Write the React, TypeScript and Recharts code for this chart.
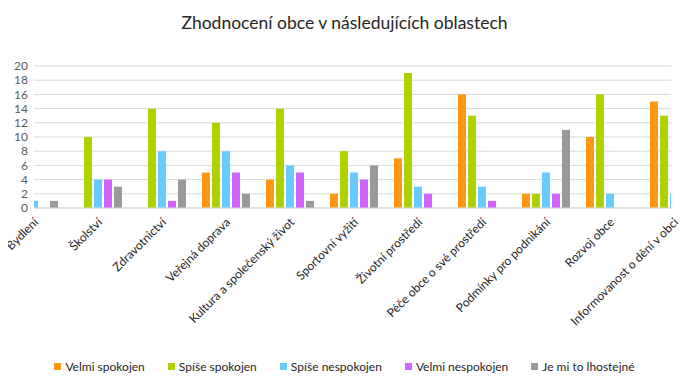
import React from 'react'
import { BarChart, Bar, XAxis, YAxis, CartesianGrid, Rectangle } from 'recharts'

const categories = [
  'Bydlení',
  'Školství',
  'Zdravotnictví',
  'Veřejná doprava',
  'Kultura a společenský život',
  'Sportovní vyžití',
  'Životní prostředí',
  'Péče obce o své prostředí',
  'Podmínky pro podnikání',
  'Rozvoj obce',
  'Informovanost o dění v obci',
]

const velmiSpokojen = [0, 0, 0, 5, 4, 2, 7, 16, 2, 10, 15]
const spiseSpokojen = [0, 10, 14, 12, 14, 8, 19, 13, 2, 16, 13]
const spiseNespokojen = [1, 4, 8, 8, 6, 5, 3, 3, 5, 2, 2]
const velmiNespokojen = [0, 4, 1, 5, 5, 4, 2, 1, 2, 0, 0]
const lhostejne = [1, 3, 4, 2, 1, 6, 0, 0, 11, 0, 0]

const yTicks = [0, 2, 4, 6, 8, 10, 12, 14, 16, 18, 20]

const series = [
  { key: 'v1', name: 'Velmi spokojen', color: '#FF9614', values: velmiSpokojen },
  { key: 'v2', name: 'Spíše spokojen', color: '#B0D100', values: spiseSpokojen },
  { key: 'v3', name: 'Spíše nespokojen', color: '#66CCFF', values: spiseNespokojen },
  { key: 'v4', name: 'Velmi nespokojen', color: '#CC66FF', values: velmiNespokojen },
  { key: 'v5', name: 'Je mi to lhostejné', color: '#9A9A9A', values: lhostejne },
]

const data = categories.map((name, i) => {
  const row: Record<string, string | number> = { name }
  series.forEach((s) => {
    row[s.key] = s.values[i]
  })
  return row
})

const FONT = 'Lato, "Open Sans", sans-serif'
const PLOT_LEFT = 34
const PLOT_RIGHT = 671

// rotated category label, its end sits just under the group centre
function CategoryTick({ x, y, payload }: any) {
  return (
    <g transform={`translate(${x + 5}, ${y + 15}) rotate(-45)`}>
      <text
        x={0}
        y={0}
        textAnchor="end"
        fontSize={12}
        fontFamily={FONT}
        fill="#262626"
      >
        {payload.value}
      </text>
    </g>
  )
}

// the plot is cut at both sides like the original, so trim bars to it
function ClippedBar(props: any) {
  const { x, width } = props
  const left = Math.max(x, PLOT_LEFT)
  const right = Math.min(x + width, PLOT_RIGHT)
  if (right <= left) return null
  return <Rectangle {...props} x={left} width={right - left} />
}

export default function App() {
  return (
    <div
      style={{
        position: 'relative',
        width: 687,
        height: 385,
        border: '1px solid #d9d9d9',
        margin: -8,
        background: '#fff',
        fontFamily: FONT,
      }}
    >
      <div
        style={{
          position: 'absolute',
          top: 11,
          left: 0,
          width: 687,
          textAlign: 'center',
          fontSize: 17.5,
          color: '#262626',
        }}
      >
        Zhodnocení obce v následujících oblastech
      </div>
      <div style={{ position: 'absolute', left: -1, top: -1 }}>
        <BarChart
          width={689}
          height={388}
          data={data}
          margin={{ top: 66, right: 18, left: 0, bottom: 0 }}
          barCategoryGap={8}
          barGap={2}
        >
          <CartesianGrid vertical={false} stroke="#d9d9d9" />
          <XAxis
            dataKey="name"
            interval={0}
            padding={{ left: -32, right: -35 }}
            axisLine={{ stroke: '#d9d9d9' }}
            tickLine={false}
            tickSize={0}
            tickMargin={0}
            height={180}
            tick={<CategoryTick />}
          />
          <YAxis
            width={34}
            domain={[0, 20]}
            ticks={yTicks}
            interval={0}
            axisLine={false}
            tickLine={false}
            tickSize={0}
            tickMargin={6}
            tick={{ fontSize: 12, fill: '#595959', fontFamily: FONT }}
          />
          {series.map((s) => (
            <Bar
              key={s.key}
              dataKey={s.key}
              name={s.name}
              fill={s.color}
              shape={<ClippedBar />}
              isAnimationActive={false}
            />
          ))}
        </BarChart>
      </div>
      <div
        style={{
          position: 'absolute',
          top: 358,
          left: 0,
          width: 687,
          display: 'flex',
          justifyContent: 'center',
          gap: 23,
          fontSize: 12,
          color: '#262626',
        }}
      >
        {series.map((s) => (
          <div key={s.key} style={{ display: 'flex', alignItems: 'center' }}>
            <span
              style={{
                display: 'inline-block',
                width: 7,
                height: 7,
                background: s.color,
                marginRight: 4,
              }}
            />
            <span>{s.name}</span>
          </div>
        ))}
      </div>
    </div>
  )
}
